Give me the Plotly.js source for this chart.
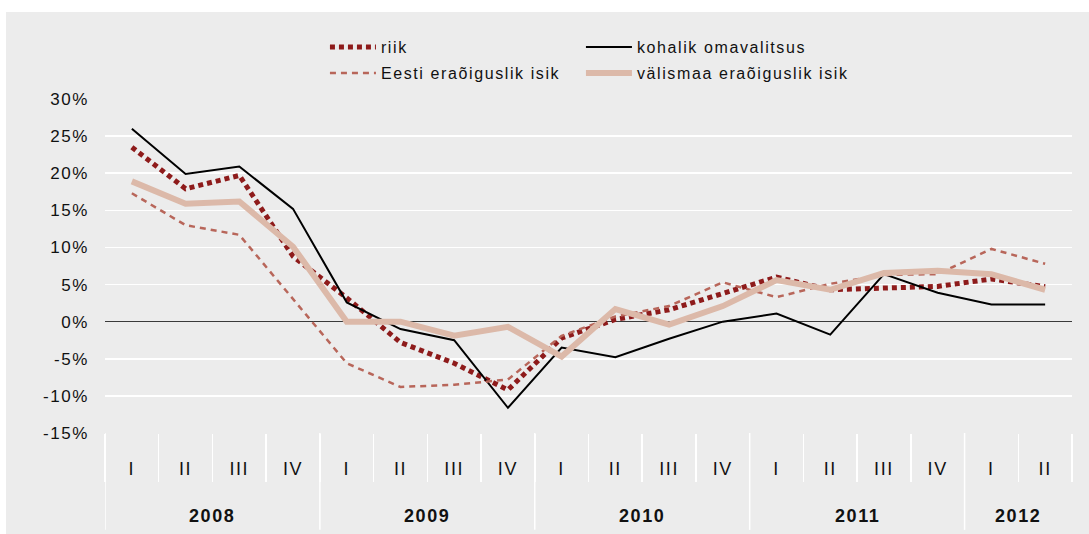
<!DOCTYPE html>
<html>
<head>
<meta charset="utf-8">
<script src="https://cdn.plot.ly/plotly-3.0.1.min.js"></script>
<style>
  html, body { margin: 0; padding: 0; background: #ffffff; }
  #chart { position: absolute; left: 6px; top: 12px; width: 1083px; height: 522px; }
  text { letter-spacing: 1.6px; }
  .scrollbox { clip-path: none !important; }
</style>
</head>
<body>
<div id="chart"></div>
<script>
// Categories
const years = ['2008','2008','2008','2008','2009','2009','2009','2009',
               '2010','2010','2010','2010','2011','2011','2011','2011','2012','2012'];
const quarters = ['I','II','III','IV','I','II','III','IV','I','II','III','IV','I','II','III','IV','I','II'];
const yearNames = ['2008','2009','2010','2011','2012'];

// Series values (%)
const riik      = [23.5, 17.9, 19.7, 8.8, 3.2, -2.8, -5.6, -9.2, -2.2, 0.3, 1.6, 3.8, 6.0, 4.3, 4.5, 4.75, 5.75, 4.7];
const kohalik   = [26.0, 19.9, 20.9, 15.2, 2.6, -1.0, -2.5, -11.6, -3.5, -4.8, -2.3, 0.0, 1.1, -1.75, 6.4, 3.9, 2.3, 2.3];
const eesti     = [17.3, 13.0, 11.7, 3.0, -5.6, -8.8, -8.5, -7.8, -1.9, 0.7, 2.1, 5.3, 3.3, 5.1, 6.3, 6.4, 9.8, 7.8];
const valismaa  = [18.9, 15.9, 16.2, 10.1, 0.0, 0.0, -1.9, -0.7, -4.7, 1.7, -0.4, 2.1, 5.6, 4.3, 6.55, 6.85, 6.4, 4.3];

const names = ['riik', 'kohalik omavalitsus', 'Eesti eraõiguslik isik', 'välismaa eraõiguslik isik'];
const yTicks = [-15, -10, -5, 0, 5, 10, 15, 20, 25, 30];

// one category per quarter, labelled with its numeral
const cats = years.map((y, i) => y + ' ' + quarters[i]);
const n = cats.length;

const FONT = '"Liberation Sans", Arial, Helvetica, sans-serif';

const traces = [
  { x: cats, y: riik, name: names[0], type: 'scatter', mode: 'lines', legend: 'legend',
    line: { color: '#8e1b1b', width: 5, dash: '5px,4px' } },
  { x: cats, y: kohalik, name: names[1], type: 'scatter', mode: 'lines', legend: 'legend',
    line: { color: '#000000', width: 2 } },
  { x: cats, y: eesti, name: names[2], type: 'scatter', mode: 'lines', legend: 'legend2',
    line: { color: '#b8665a', width: 2.5, dash: '6px,5px' } },
  { x: cats, y: valismaa, name: names[3], type: 'scatter', mode: 'lines', legend: 'legend2',
    line: { color: '#dcb9a9', width: 6 } }
];

// year group labels (bold) and separators, placed on the category axis scale
const annotations = [];
const shapes = [];
yearNames.forEach(yr => {
  const first = years.indexOf(yr), last = years.lastIndexOf(yr);
  annotations.push({
    xref: 'x', yref: 'paper', x: (first + last) / 2, y: -0.2485,
    xanchor: 'center', yanchor: 'middle', showarrow: false,
    text: '<b>' + yr + '</b>', font: { family: FONT, size: 18, color: '#111' }
  });
  shapes.push({
    type: 'line', xref: 'x', yref: 'paper', x0: first - 0.5, x1: first - 0.5, y0: 0, y1: -0.29,
    line: { color: '#ffffff', width: 1.5 }, layer: 'below'
  });
});

const legendCommon = {
  orientation: 'h', xref: 'container', yref: 'container',
  xanchor: 'left', yanchor: 'middle',
  bgcolor: 'rgba(0,0,0,0)', borderwidth: 0,
  font: { family: FONT, size: 16, color: '#111' },
  itemwidth: 46, entrywidth: 195, tracegroupgap: 0
};

const layout = {
  width: 1083, height: 522,
  paper_bgcolor: '#ececec', plot_bgcolor: '#ececec',
  margin: { l: 99, r: 17, t: 87, b: 101 },
  font: { family: FONT, size: 16, color: '#111' },
  showlegend: true,
  legend: Object.assign({}, legendCommon, { x: 0.2945, y: 1 - 35 / 522 }),
  legend2: Object.assign({}, legendCommon, { x: 0.2945, y: 1 - 61 / 522 }),
  xaxis: {
    type: 'category',
    range: [-0.5, n - 0.5],
    tickmode: 'array', tickvals: cats, ticktext: quarters,
    showgrid: false, zeroline: false, showline: false,
    ticks: 'outside', ticklen: 48, tickwidth: 1.5, tickcolor: '#ffffff',
    tickson: 'boundaries',
    tickfont: { family: FONT, size: 18, color: '#111' },
    ticklabelstandoff: 23
  },
  yaxis: {
    range: [-15, 30], tickvals: yTicks, ticktext: yTicks.map(v => v + '%'),
    showgrid: true, gridcolor: '#ffffff', gridwidth: 1.5,
    zeroline: true, zerolinecolor: '#3a3a3a', zerolinewidth: 1.5,
    showline: false, ticks: '',
    ticklabelstandoff: 15,
    tickfont: { family: FONT, size: 17, color: '#111' }
  },
  annotations: annotations,
  shapes: shapes
};

Plotly.newPlot('chart', traces, layout, { displayModeBar: false, staticPlot: true });
</script>
</body>
</html>
